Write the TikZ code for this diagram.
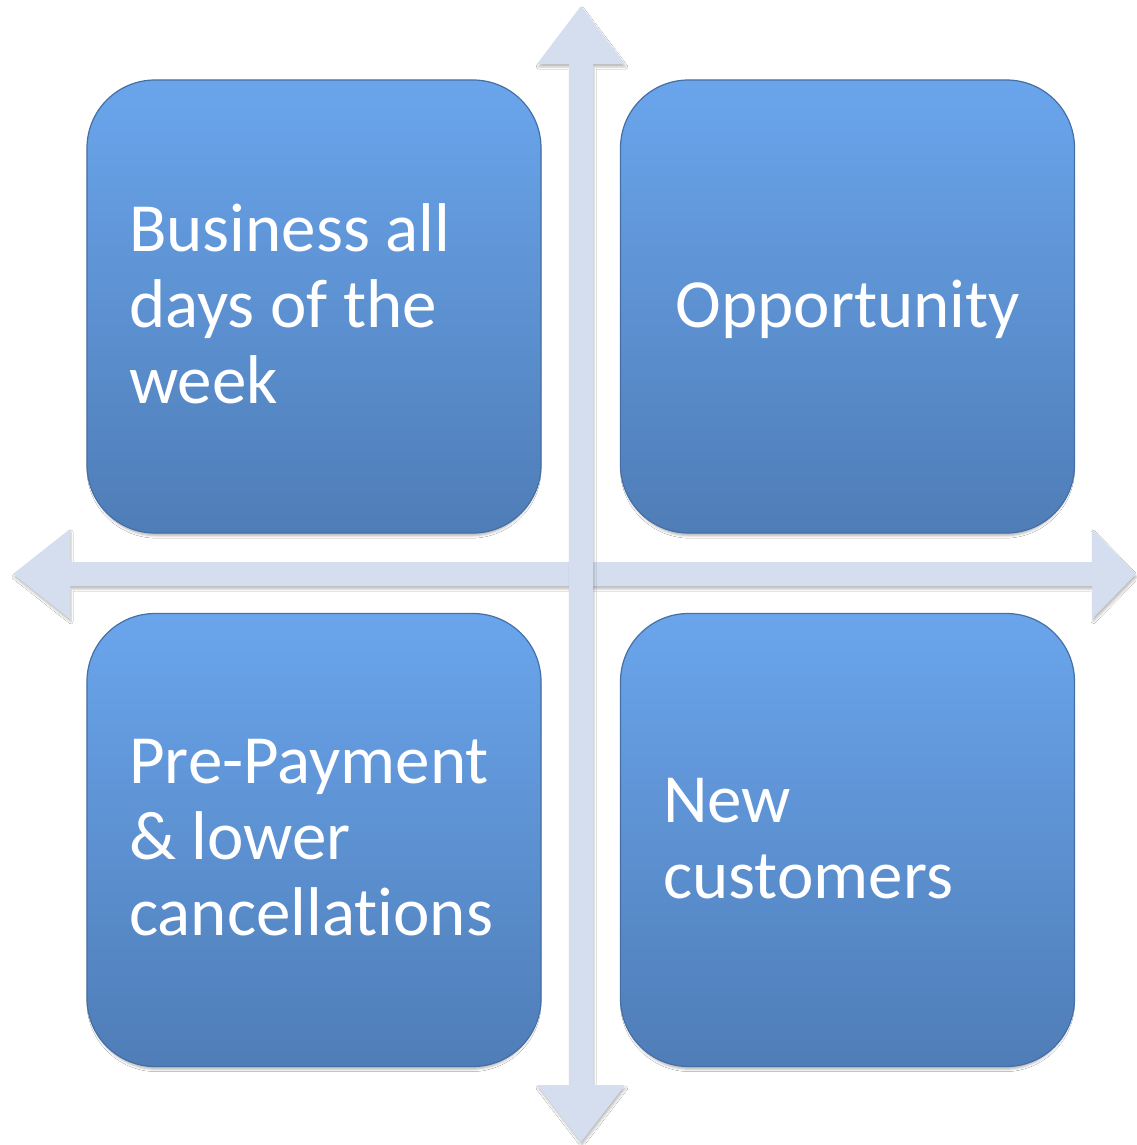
\documentclass[tikz,border=0pt]{standalone}
\usepackage{fontspec}
\setmainfont{Carlito}[Ligatures=NoCommon]
\usetikzlibrary{shadows.blur}
\definecolor{arrowfill}{HTML}{D5DEEE}
\definecolor{boxtop}{HTML}{6AA5EC}
\definecolor{boxbot}{HTML}{4F7DB7}
\definecolor{boxline}{HTML}{4570A6}
\tikzset{
  quad/.style={rounded corners=68pt, top color=boxtop, bottom color=boxbot,
    draw=boxline, line width=1.2pt, minimum width=454pt, minimum height=453pt,
    inner sep=0pt,
    blur shadow={shadow xshift=0pt, shadow yshift=-5pt, shadow scale=0.99,
      shadow blur radius=2.5pt, shadow opacity=30}},
  axisarrow/.style={fill=arrowfill,
    blur shadow={shadow xshift=1pt, shadow yshift=-3pt, shadow blur radius=2pt, shadow opacity=25}},
  quadlabel/.style={text=white, font=\fontsize{69}{76}\selectfont, align=left,
    anchor=base west, inner sep=0pt},
}
\begin{document}
\begin{tikzpicture}[x=1pt,y=-1pt]
\useasboundingbox[fill=white] (0,0) rectangle (1136,1145);
% axis end points
\coordinate (hl) at (13,574);
\coordinate (hr) at (1136,574);
\coordinate (vt) at (581,6);
\coordinate (vb) at (581,1142);
% horizontal axis arrow
\path[axisarrow] (hl) -- (70,529) -- (70,562) -- (1092,562) -- (1092,529) -- (hr)
  -- (1092,619) -- (1092,586) -- (70,586) -- (70,619) -- cycle;
% vertical axis arrow
\path[axisarrow] (vt) -- (625,64) -- (593,64) -- (593,1085) -- (625,1085) -- (vb)
  -- (537,1085) -- (569,1085) -- (569,64) -- (537,64) -- cycle;
% quadrants
\node[quad] (tl) at (314,306.5) {};
\node[quad] (tr) at (847.5,306.5) {};
\node[quad] (bl) at (314,840) {};
\node[quad] (br) at (847.5,840) {};
% labels (anchor = baseline of the last line)
\node[quadlabel] (tltxt) at (129,403) {Business all\\days of the\\week};
\node[quadlabel, anchor=base] (trtxt) at (848,327) {Opportunity};
\node[quadlabel] (bltxt) at (129,935) {Pre-Payment\\\&~lower\\cancellations};
\node[quadlabel] (brtxt) at (663,898) {New\\customers};
\end{tikzpicture}
\end{document}
